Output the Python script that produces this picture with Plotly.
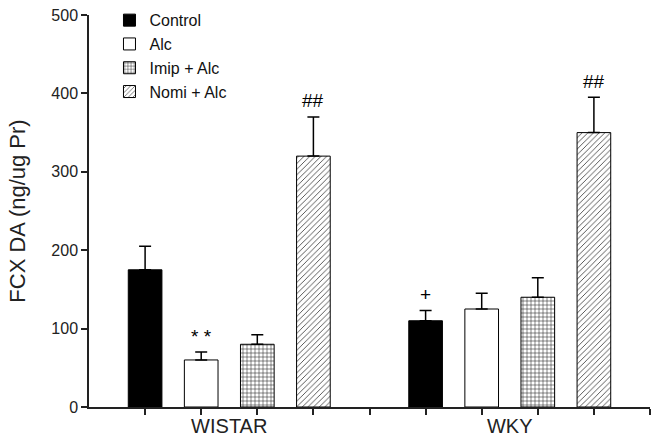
import plotly.graph_objects as go

groups = ["WISTAR", "WKY"]
series = ["Control", "Alc", "Imip + Alc", "Nomi + Alc"]
values = {
    "Control": [175, 110],
    "Alc": [60, 125],
    "Imip + Alc": [80, 140],
    "Nomi + Alc": [320, 350],
}
errors = {
    "Control": [30, 13],
    "Alc": [10, 20],
    "Imip + Alc": [12, 25],
    "Nomi + Alc": [50, 45],
}
# significance marks: (group index, series name, text)
marks = [
    (0, "Alc", "* *"),
    (0, "Nomi + Alc", "##"),
    (1, "Control", "+"),
    (1, "Nomi + Alc", "##"),
]
y_ticks = [0, 100, 200, 300, 400, 500]

styles = {
    "Control": dict(color="black", pattern=dict(shape="")),
    "Alc": dict(color="white", pattern=dict(shape="")),
    "Imip + Alc": dict(color="white", pattern=dict(shape="+", size=4, solidity=0.25,
                                                   fgcolor="#222222", bgcolor="white", fillmode="replace")),
    "Nomi + Alc": dict(color="white", pattern=dict(shape="/", size=4, solidity=0.2,
                                                   fgcolor="#333333", bgcolor="white", fillmode="replace")),
}

FONT = "Liberation Sans, Arial, sans-serif"
n = len(series)
slot = n + 1

def xpos(g, s):
    return g * slot + s + 1

fig = go.Figure()
for si, name in enumerate(series):
    st = styles[name]
    fig.add_trace(go.Bar(
        x=[xpos(g, si) for g in range(len(groups))],
        y=values[name],
        name=name,
        width=0.6,
        marker=dict(color=st["color"], pattern=st["pattern"],
                    line=dict(color="black", width=1)),
        error_y=dict(type="data", array=errors[name],
                     arrayminus=[0] * len(groups), symmetric=False,
                     color="black", thickness=1.5, width=6),
    ))

for g, name, txt in marks:
    si = series.index(name)
    fig.add_annotation(
        x=xpos(g, si), y=values[name][g] + errors[name][g],
        text=txt, showarrow=False, yanchor="middle", yshift=16,
        font=dict(family=FONT, size=19, color="black"),
    )

fig.update_layout(
    width=657, height=443,
    margin=dict(l=89, r=7, t=15, b=36, autoexpand=False),
    paper_bgcolor="white", plot_bgcolor="white",
    font=dict(family=FONT, color="#222222"),
    showlegend=True,
    legend=dict(x=0.0365, y=1.03, xanchor="left", yanchor="top",
                bgcolor="rgba(0,0,0,0)", font=dict(family=FONT, size=16, color="#111111"),
                itemwidth=30, tracegroupgap=0),
    xaxis=dict(range=[0, len(groups) * slot], showgrid=False, zeroline=False,
               showline=True, linecolor="#222222", linewidth=1.5,
               tickvals=[g * slot + (n + 1) / 2 for g in range(len(groups))],
               ticktext=groups, ticks="", ticklen=0,
               tickfont=dict(family=FONT, size=20, color="#222222"),
               minor=dict(tickmode="array",
                          tickvals=[k for k in range(1, len(groups) * slot + 1)],
                          ticks="outside", ticklen=6, tickwidth=1.5, tickcolor="#222222"),
               fixedrange=True),
    yaxis=dict(range=[0, 500], tickvals=y_ticks, showgrid=False, zeroline=False,
               showline=True, linecolor="#222222", linewidth=1.5,
               ticks="outside", ticklen=6, tickwidth=1.5, tickcolor="#222222",
               tickfont=dict(family=FONT, size=16, color="#222222"),
               title=dict(text="FCX DA (ng/ug Pr)", font=dict(family=FONT, size=22, color="#222222"),
                          standoff=20),
               fixedrange=True),
)

fig.write_html("out.html", config={"displayModeBar": False},
               post_script="document.body.style.margin='0';")
